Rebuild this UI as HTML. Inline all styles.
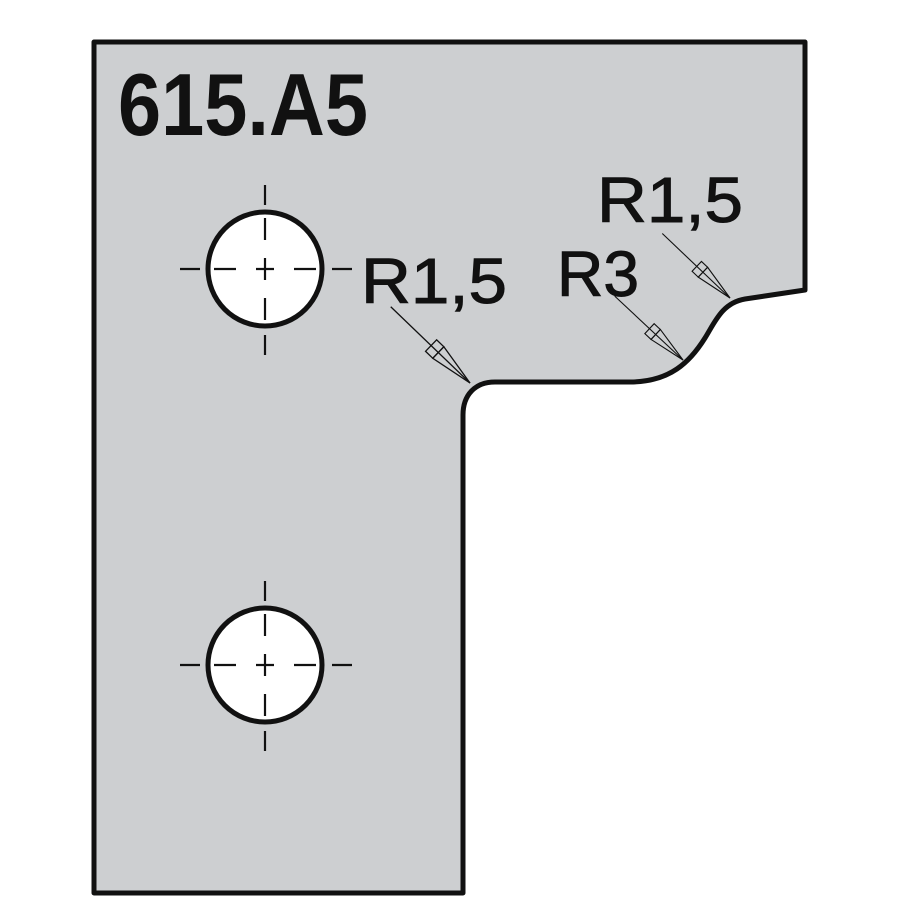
<!DOCTYPE html>
<html><head><meta charset="utf-8"><style>html,body{margin:0;padding:0;background:#fff}svg{display:block}</style></head>
<body>
<svg width="900" height="900" viewBox="0 0 900 900" xmlns="http://www.w3.org/2000/svg">
<defs>
<g id="cone" fill="none" stroke="#111" stroke-width="1.3">
<line x1="0" y1="0" x2="-110" y2="0"/>
<polygon points="0,0 -44,-8 -44,8"/>
<polygon points="-44,-8 -54,-8 -54,8 -44,8"/>
</g>
</defs>
<path d="M94,42 L805,42 L805,290 L745,299 C722,303 715,322 705,338 C690,362 670,382 630,382 L495,382 C475,382 463,395 463,415 L463,893 L94,893 Z" fill="#cdcfd1" stroke="#111" stroke-width="5" stroke-linejoin="round"/>
<g fill="#fff" stroke="#111" stroke-width="5">
<circle cx="265" cy="269" r="57"/>
<circle cx="265" cy="665" r="57"/>
</g>
<g stroke="#111" stroke-width="2.2" fill="none">
<path d="M265,185V205M265,218V240M265,258V280M265,298V320M265,335V355M180,269H200M214,269H236M256,269H274M294,269H316M332,269H352"/>
<path d="M265,581V601M265,614V636M265,654V676M265,694V716M265,731V751M180,665H200M214,665H236M256,665H274M294,665H316M332,665H352"/>
</g>
<use href="#cone" transform="translate(470,383) rotate(43.9)"/>
<use href="#cone" transform="translate(683,360) rotate(43.1) scale(0.85)"/>
<use href="#cone" transform="translate(730,298) rotate(43.6) scale(0.85)"/>
<g font-family="'Liberation Sans', sans-serif" fill="#111">
<text x="118" y="135" font-size="88" font-weight="bold" textLength="250" lengthAdjust="spacingAndGlyphs">615.A5</text>
<g stroke="#111" stroke-width="1">
<text x="361" y="303" font-size="64" textLength="146" lengthAdjust="spacingAndGlyphs">R1,5</text>
<text x="557" y="296" font-size="64" textLength="82" lengthAdjust="spacingAndGlyphs">R3</text>
<text x="597" y="222" font-size="64" textLength="146" lengthAdjust="spacingAndGlyphs">R1,5</text>
</g>
</g>
</svg>
</body></html>
